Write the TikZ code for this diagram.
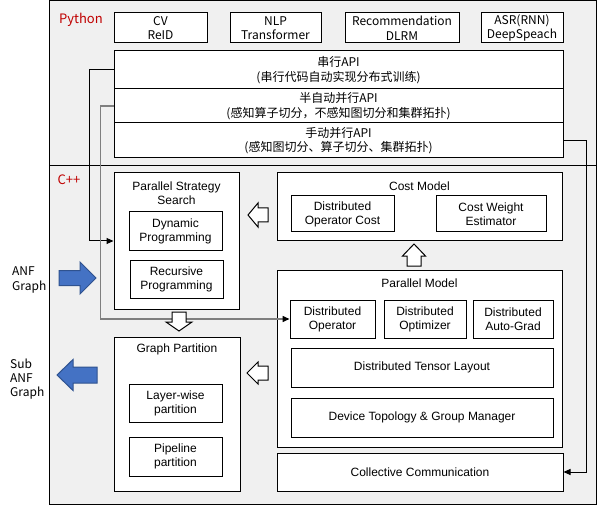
\documentclass[tikz,border=0pt]{standalone}
\usepackage{fontspec}
\setmainfont{Liberation Sans}
\newfontfamily\cjk{Noto Sans CJK SC}
\usetikzlibrary{arrows.meta}

\definecolor{panelgray}{HTML}{F0F0F0}
\definecolor{pyred}{HTML}{C00000}
\definecolor{anfblue}{HTML}{4472C4}
\definecolor{anfedge}{HTML}{2F528F}
\definecolor{linkgray}{HTML}{7F7F7F}

\tikzstyle{panel} = [draw, fill=panelgray, line width=1pt, inner sep=0, anchor=north west]
\tikzstyle{box} = [draw, fill=white, line width=1pt, inner sep=0, align=center, font=\fontsize{12}{14}\selectfont]
\tikzstyle{cnbox} = [box, font=\cjk\fontsize{12}{14.5}\selectfont]
\tikzstyle{heading} = [inner sep=0, align=center, font=\fontsize{12}{14}\selectfont]
\tikzstyle{link} = [line width=1pt, -{Triangle[length=7pt,width=6pt,color=black]}]
\tikzstyle{hollow} = [draw=black, fill=white, line width=1pt]
\tikzstyle{bluearrow} = [draw=anfedge, fill=anfblue, line width=1pt]

\begin{document}
\begin{tikzpicture}[x=1pt,y=-1pt]
\useasboundingbox (0,0) rectangle (597,505);

%PYTHON
\node[panel, minimum width=547, minimum height=164.5] (py) at (49,0.5) {};
\node[text=pyred, inner sep=0, font=\cjk\fontsize{13}{15}\selectfont] (pylbl) at (81,20) {Python};

\node[cnbox, minimum width=93, minimum height=30] (cv) at (160.5,28) {CV\\ReID};
\node[cnbox, minimum width=91, minimum height=30] (nlp) at (275.5,28) {NLP\\Transformer};
\node[cnbox, minimum width=114, minimum height=30] (reco) at (402,28) {Recommendation\\DLRM};
\node[cnbox, minimum width=82, minimum height=30] (asr) at (522,28) {ASR(RNN)\\DeepSpeach};

\node[cnbox, minimum width=449, minimum height=38] (ser) at (338.5,70) {串行API\\(串行代码自动实现分布式训练)};
\node[cnbox, minimum width=449, minimum height=34] (semi) at (338.5,106) {半自动并行API\\(感知算子切分，不感知图切分和集群拓扑)};
\node[cnbox, minimum width=449, minimum height=35] (man) at (338.5,140.5) {手动并行API\\(感知图切分、算子切分、集群拓扑)};

% C++
\node[panel, minimum width=547, minimum height=339] (cpp) at (49,165) {};
\node[text=pyred, inner sep=0, font=\cjk\fontsize{13}{15}\selectfont] (cpplbl) at (69,180) {C++};

\node[box, minimum width=125, minimum height=136] (pss) at (176.5,241) {};
\node[heading] (psst) at (176.5,193) {Parallel Strategy\\Search};
\node[box, minimum width=93, minimum height=38] (dyn) at (175.5,231) {Dynamic\\Programming};
\node[box, minimum width=93, minimum height=38] (recp) at (176.5,279) {Recursive\\Programming};

\node[box, minimum width=285, minimum height=68] (cost) at (419.5,207) {};
\node[heading] (costt) at (419.5,186) {Cost Model};
\node[box, minimum width=103, minimum height=36] (doc) at (342.5,214) {Distributed\\Operator Cost};
\node[box, minimum width=110, minimum height=36] (cwe) at (491,214) {Cost Weight\\Estimator};

\node[box, minimum width=285, minimum height=177] (pm) at (419.5,358.5) {};
\node[heading] (pmt) at (419.5,283) {Parallel Model};
\node[box, minimum width=85, minimum height=38] (dop) at (332.5,319) {Distributed\\Operator};
\node[box, minimum width=82, minimum height=38] (dopt) at (425,319) {Distributed\\Optimizer};
\node[box, minimum width=80, minimum height=38] (dag) at (513,319) {Distributed\\Auto-Grad};
\node[box, minimum width=262, minimum height=39] (dtl) at (422,367.5) {Distributed Tensor Layout};
\node[box, minimum width=262, minimum height=39] (dtg) at (422,417.5) {Device Topology \& Group Manager};

\node[box, minimum width=286, minimum height=38] (coll) at (420,472) {Collective Communication};

\node[box, minimum width=126, minimum height=154] (gp) at (177,414) {};
\node[heading] (gpt) at (177,349) {Graph Partition};
\node[box, minimum width=93, minimum height=38] (lw) at (175.5,403) {Layer-wise\\partition};
\node[box, minimum width=93, minimum height=39] (pp) at (175.5,456.5) {Pipeline\\partition};

% API links
\draw[link] (ser.west) -- ++(-24,0) |- (pss.west);
\draw[link, draw=linkgray, line width=1.5pt] (semi.west) -- ++(-13,0) |- (dop.west);
\draw[link] (man.east) -- ++(23,0) |- (coll.east);

% block arrows
\draw[hollow] (414,244) -- (425.5,256) -- (421,256) -- (421,266) -- (407,266) -- (407,256) -- (402.5,256) -- cycle;
\draw[hollow] (248,215) -- (258,203) -- (258,208) -- (268,208) -- (268,222) -- (258,222) -- (258,227) -- cycle;
\draw[hollow] (179,331) -- (192,322) -- (186,322) -- (186,312) -- (172,312) -- (172,322) -- (166,322) -- cycle;
\draw[hollow] (247,373) -- (258,362) -- (258,366) -- (268,366) -- (268,380) -- (258,380) -- (258,384) -- cycle;

%INPUT
\draw[bluearrow] (59,270.5) -- (80,270.5) -- (80,262) -- (96,278) -- (80,294) -- (80,285.5) -- (59,285.5) -- cycle;
\node[inner sep=0, align=left, anchor=west, font=\cjk\fontsize{12}{14.5}\selectfont] (anf) at (12,280) {ANF\\Graph};

% OUTPUT
\draw[bluearrow] (57,375) -- (73,359.5) -- (73,367) -- (97,367) -- (97,383) -- (73,383) -- (73,390.5) -- cycle;
\node[inner sep=0, align=left, anchor=west, font=\cjk\fontsize{12}{14}\selectfont] (subanf) at (10,379) {Sub\\ANF\\Graph};
\end{tikzpicture}
\end{document}
